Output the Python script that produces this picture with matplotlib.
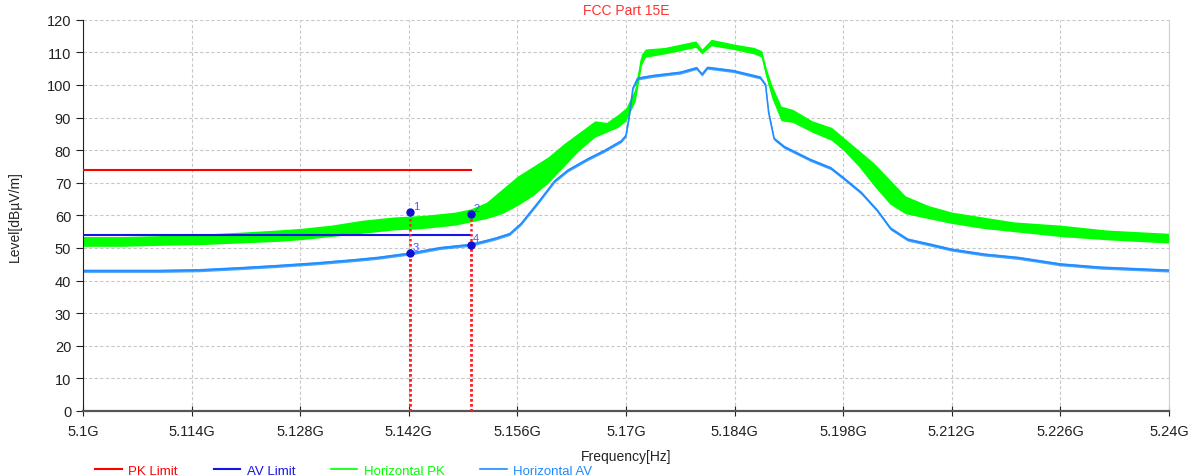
import matplotlib.pyplot as plt
from matplotlib.ticker import FuncFormatter, MultipleLocator

plt.rcParams['font.family'] = ['Liberation Sans', 'DejaVu Sans']

# Frequencies in GHz, levels in dBuV/m

# Horizontal PK trace: lower / upper edge of the noisy band
pk_freq = [5.100, 5.105, 5.110, 5.115, 5.120, 5.125, 5.128, 5.132, 5.136, 5.140,
           5.144, 5.148, 5.150, 5.152, 5.154, 5.156, 5.158, 5.160, 5.162, 5.164,
           5.166, 5.1675, 5.169, 5.170, 5.1712, 5.172, 5.1725, 5.175, 5.177, 5.179,
           5.1798, 5.181, 5.184, 5.1865, 5.1875, 5.1881, 5.1888, 5.190, 5.1915, 5.194,
           5.1965, 5.198, 5.200, 5.202, 5.204, 5.206, 5.209, 5.212, 5.216, 5.220,
           5.226, 5.232, 5.236, 5.240]
pk_low = [50.5, 50.5, 50.8, 51.0, 51.5, 52.0, 52.5, 53.5, 54.5, 55.5,
          56.0, 57.0, 58.0, 59.0, 60.5, 63.0, 66.0, 70.0, 75.0, 80.0,
          84.0, 85.5, 87.0, 89.0, 95.0, 106.0, 108.5, 109.5, 110.5, 111.5,
          109.5, 112.0, 110.8, 109.5, 108.5, 102.0, 96.0, 89.0, 88.5, 85.5,
          83.0, 80.0, 75.0, 69.0, 63.5, 60.5, 59.0, 57.5, 56.0, 55.0,
          53.5, 52.5, 52.0, 51.5]
pk_high = [53.5, 53.5, 53.8, 54.2, 54.8, 55.5, 56.0, 57.0, 58.5, 59.5,
           60.0, 61.0, 62.0, 64.0, 68.0, 72.0, 75.0, 78.0, 82.0, 85.5,
           89.0, 88.5, 91.0, 93.0, 99.0, 109.5, 111.0, 111.5, 112.5, 113.5,
           111.0, 114.0, 112.5, 111.5, 110.5, 105.0, 100.0, 93.5, 92.5, 89.0,
           87.0, 84.0, 80.0, 76.0, 71.0, 66.0, 63.0, 61.0, 59.5, 58.0,
           57.0, 55.5, 55.0, 54.5]

# Horizontal AV trace
av_freq = [5.100, 5.110, 5.115, 5.120, 5.125, 5.130, 5.135, 5.138, 5.1424, 5.146,
           5.150, 5.153, 5.155, 5.1565, 5.1587, 5.1608, 5.1625, 5.1651, 5.1672, 5.1694,
           5.170, 5.1704, 5.1709, 5.1715, 5.1735, 5.177, 5.1791, 5.1798, 5.1805, 5.1838,
           5.1873, 5.188, 5.1884, 5.1891, 5.1904, 5.1938, 5.1964, 5.198, 5.2003, 5.2024,
           5.2041, 5.2063, 5.2093, 5.212, 5.2162, 5.2205, 5.226, 5.2312, 5.240]
av_level = [43.0, 43.0, 43.2, 43.8, 44.5, 45.3, 46.3, 47.0, 48.4, 50.0,
            51.0, 52.8, 54.3, 57.5, 64.0, 70.5, 73.8, 77.3, 79.8, 82.8,
            84.5, 90.0, 99.0, 102.0, 102.8, 103.8, 105.2, 103.2, 105.3, 104.3,
            102.3, 100.0, 91.5, 83.5, 81.0, 77.0, 74.5, 71.5, 67.0, 61.5,
            56.0, 52.6, 51.0, 49.5, 48.0, 47.0, 45.0, 44.0, 43.1]

# Limits (restricted band below 5.15 GHz)
limit_freq = [5.100, 5.150]
pk_limit = [74.0, 74.0]
av_limit = [54.0, 54.0]

# Marker readings
marker_ids = ["1", "2", "3", "4"]
marker_freq = [5.1422, 5.1500, 5.1422, 5.1500]
marker_level = [61.0, 60.3, 48.3, 51.0]

x_ticks = [5.1, 5.114, 5.128, 5.142, 5.156, 5.17, 5.184, 5.198, 5.212, 5.226, 5.24]

c_pk_lim = "#ff0000"
c_av_lim = "#1515e6"
c_pk = "#00ff00"
c_av = "#1e8cff"

fig = plt.figure(figsize=(11.94, 4.77), dpi=100)
ax = fig.add_axes([0.0695, 0.1363, 0.9095, 0.8203])

ax.plot(limit_freq, pk_limit, color=c_pk_lim, lw=1.5, label="PK Limit", zorder=3)
ax.plot(limit_freq, av_limit, color=c_av_lim, lw=1.5, label="AV Limit", zorder=3)

ax.fill_between(pk_freq, pk_low, pk_high, color=c_pk, lw=0, zorder=2)
ax.plot(pk_freq, [(a + b) / 2 for a, b in zip(pk_low, pk_high)], color=c_pk, lw=1.2,
        label="Horizontal PK", zorder=2)
ax.fill_between(av_freq, [v - 0.5 for v in av_level], [v + 0.5 for v in av_level],
                color=c_av, lw=0, alpha=0.8, zorder=2)
ax.plot(av_freq, av_level, color=c_av, lw=1.2, label="Horizontal AV", zorder=2)

# markers with red dotted drop lines
for mid, f, lv in zip(marker_ids, marker_freq, marker_level):
    ax.plot([f, f], [0, lv], color="#ff2020", lw=1.8, ls=(0, (1, 1)), zorder=4)
    ax.plot(f, lv, "o", color="#1010d0", ms=5, zorder=5)
    ax.text(f + 0.0003, lv + 1.0, mid, color="#5050ff", fontsize=8, zorder=5)

ax.set_xlim(5.1, 5.24)
ax.set_ylim(0, 120)
ax.set_xticks(x_ticks)
ax.yaxis.set_major_locator(MultipleLocator(10))
ax.xaxis.set_major_formatter(FuncFormatter(lambda v, p: f"{v:.3f}".rstrip("0").rstrip(".") + "G"))

ax.grid(True, color="#c8c8c8", ls=(0, (3, 2)), lw=0.8)
ax.set_axisbelow(True)
ax.spines["top"].set_visible(False)
ax.spines["right"].set_color("#d0d0d0")
ax.spines["left"].set_color("#222222")
ax.spines["bottom"].set_color("#555555")
ax.spines["bottom"].set_linewidth(1.6)
ax.tick_params(axis="y", direction="out", length=5, labelsize=10.5, colors="#222222")
ax.tick_params(axis="x", direction="inout", length=7, labelsize=10.5, colors="#222222", pad=6)

ax.set_title("FCC Part 15E", color="#ff3030", fontsize=10, pad=4)
ax.set_ylabel("Level[dBµV/m]", fontsize=10, color="#222222", labelpad=18)
ax.set_xlabel("Frequency[Hz]", fontsize=10, color="#222222")
ax.xaxis.set_label_coords(0.5, -0.097)

fig.legend(loc="lower left", bbox_to_anchor=(0.070, -0.027), ncol=4, frameon=False,
           fontsize=9.5, labelcolor="linecolor", handlelength=2.0, handletextpad=0.5,
           columnspacing=2.7)

fig.savefig("out.png", dpi=100, facecolor="white")
